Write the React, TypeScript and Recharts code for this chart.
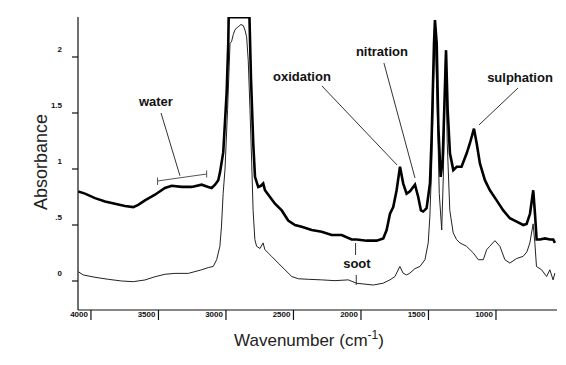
import React from 'react';
import { LineChart, Line, XAxis, YAxis, ReferenceLine, ReferenceDot } from 'recharts';

// [wavenumber cm-1, absorbance]
const usedOilSpectrum: [number, number][] = [
  [4094, 0.8], [4044, 0.78], [3970, 0.74], [3896, 0.71], [3822, 0.69], [3748, 0.67], [3687, 0.66],
  [3650, 0.68], [3600, 0.72], [3526, 0.77], [3452, 0.83], [3402, 0.85], [3328, 0.84], [3254, 0.84],
  [3180, 0.86], [3131, 0.84], [3106, 0.83], [3081, 0.86], [3057, 0.9], [3044, 0.97], [3020, 1.15],
  [2995, 1.68], [2983, 2.12], [2980, 2.355], [2826, 2.355], [2815, 1.82], [2798, 1.23], [2785, 0.93],
  [2761, 0.84], [2741, 0.85], [2724, 0.87], [2711, 0.81], [2674, 0.75], [2637, 0.69], [2587, 0.63],
  [2539, 0.54], [2489, 0.5], [2439, 0.485], [2365, 0.455], [2291, 0.44], [2217, 0.41], [2143, 0.41],
  [2069, 0.37], [2032, 0.37], [1958, 0.36], [1884, 0.36], [1835, 0.38], [1810, 0.455], [1785, 0.6],
  [1761, 0.66], [1736, 0.81], [1711, 1.02], [1687, 0.87], [1662, 0.78], [1637, 0.8], [1600, 0.86],
  [1576, 0.75], [1556, 0.63], [1539, 0.62], [1514, 0.65], [1489, 0.87], [1476, 1.3], [1459, 2.12],
  [1452, 2.33], [1439, 2.12], [1427, 1.38], [1410, 0.93], [1395, 1.08], [1383, 1.53], [1370, 2.06],
  [1358, 1.53], [1341, 1.14], [1316, 0.99], [1291, 1.02], [1255, 1.02], [1217, 1.14], [1193, 1.23],
  [1163, 1.36], [1143, 1.23], [1119, 1.05], [1082, 0.9], [1045, 0.81], [995, 0.72], [946, 0.63],
  [897, 0.56], [847, 0.53], [798, 0.5], [773, 0.51], [748, 0.6], [724, 0.81], [711, 0.6], [699, 0.37],
  [674, 0.37], [637, 0.38], [600, 0.37], [576, 0.37], [563, 0.34],
];

const newOilSpectrum: [number, number][] = [
  [4094, 0.083], [4057, 0.054], [3970, 0.033], [3872, 0.015], [3773, 0.0], [3687, -0.006], [3600, 0.009],
  [3526, 0.038], [3452, 0.06], [3378, 0.068], [3279, 0.068], [3180, 0.1], [3131, 0.12], [3094, 0.13],
  [3069, 0.19], [3045, 0.31], [3033, 0.49], [3021, 0.78], [3007, 1.0], [2988, 1.53], [2970, 2.12],
  [2958, 2.14], [2946, 2.2], [2934, 2.24], [2921, 2.26], [2909, 2.27], [2889, 2.29], [2872, 2.28],
  [2859, 2.24], [2847, 2.18], [2835, 1.97], [2822, 1.53], [2810, 1.08], [2799, 0.63], [2786, 0.37],
  [2773, 0.31], [2748, 0.29], [2725, 0.34], [2712, 0.28], [2687, 0.25], [2662, 0.22], [2613, 0.16],
  [2563, 0.1], [2513, 0.04], [2464, 0.02], [2390, 0.015], [2292, 0.01], [2193, 0.003], [2094, 0.01],
  [2033, -0.02], [1909, -0.036], [1836, -0.02], [1786, 0.01], [1748, 0.04], [1712, 0.13], [1688, 0.07],
  [1663, 0.054], [1638, 0.07], [1601, 0.11], [1563, 0.13], [1526, 0.19], [1502, 0.34], [1490, 0.57],
  [1477, 1.0], [1467, 1.53], [1453, 2.3], [1435, 1.53], [1420, 0.78], [1402, 0.455], [1390, 0.93],
  [1373, 2.06], [1361, 1.23], [1342, 0.63], [1317, 0.43], [1292, 0.37], [1267, 0.34], [1218, 0.31],
  [1168, 0.25], [1131, 0.19], [1094, 0.19], [1069, 0.28], [1046, 0.31], [1008, 0.36], [971, 0.31],
  [934, 0.19], [897, 0.16], [848, 0.2], [799, 0.22], [771, 0.26], [749, 0.34], [725, 0.51], [712, 0.34],
  [700, 0.13], [662, 0.1], [625, 0.04], [601, 0.1], [577, 0.01], [564, 0.07],
];

const xTicks = [4000, 3500, 3000, 2500, 2000, 1500, 1000];
const yTicks = [0, 0.5, 1, 1.5, 2];
const yTickLabels = ['0', '.5', '1', '1.5', '2'];

const annotationTexts = [
  { text: 'water', wn: 3519, v: 1.607 },
  { text: 'oxidation', wn: 2437, v: 1.83 },
  { text: 'nitration', wn: 1845, v: 2.045 },
  { text: 'sulphation', wn: 822, v: 1.821 },
  { text: 'soot', wn: 2030, v: 0.161 },
];

const leaderLines = [
  { x1: 3481, y1: 1.5, x2: 3341, y2: 0.94 },
  { x1: 2289, y1: 1.741, x2: 1733, y2: 1.036 },
  { x1: 1830, y1: 1.946, x2: 1600, y2: 0.92 },
  { x1: 837, y1: 1.723, x2: 1126, y2: 1.393 },
  { x1: 2040, y1: 0.339, x2: 2040, y2: 0.232 },
  { x1: 2035, y1: 0.054, x2: 2035, y2: -0.036 },
];

const waterBracket = [
  { x1: 3507, y1: 0.893, x2: 3143, y2: 0.955 },
  { x1: 3507, y1: 0.924, x2: 3507, y2: 0.857 },
  { x1: 3143, y1: 0.987, x2: 3143, y2: 0.924 },
];

const thickMap = new Map(usedOilSpectrum.map(([w, a]) => [w, a]));
const thinMap = new Map(newOilSpectrum.map(([w, a]) => [w, a]));
const allWn = Array.from(new Set([...usedOilSpectrum.map((p) => p[0]), ...newOilSpectrum.map((p) => p[0])])).sort(
  (a, b) => b - a
);
const chartData = allWn.map((wn) => ({ wn, used: thickMap.get(wn), fresh: thinMap.get(wn) }));

const FONT = "Arial, 'Liberation Sans', Helvetica, sans-serif";

const XTick = (props: any) => {
  const { x, y, payload } = props;
  return (
    <text x={x - 3} y={y - 5} textAnchor="end" fontFamily={FONT} fontSize={8} fontWeight="bold" fill="#111">
      {payload.value}
    </text>
  );
};

const YTick = (props: any) => {
  const { x, y, payload, index } = props;
  const i = yTicks.indexOf(payload.value);
  return (
    <text x={x - 8} y={y - 5} textAnchor="end" fontFamily={FONT} fontSize={8} fontWeight="bold" fill="#111">
      {i >= 0 ? yTickLabels[i] : payload.value}
    </text>
  );
};

export default function App() {
  return (
    <div style={{ position: 'absolute', left: 0, top: 0, width: 566, height: 365, background: '#fff' }}>
      <LineChart width={566} height={365} data={chartData} margin={{ top: 17, right: 9, bottom: 0, left: 0 }}>
        <XAxis
          dataKey="wn"
          type="number"
          domain={[548, 4096]}
          reversed
          ticks={xTicks}
          interval={0}
          tickSize={10}
          height={55}
          allowDataOverflow
          axisLine={{ stroke: '#111', strokeWidth: 1.2 }}
          tickLine={{ stroke: '#111', strokeWidth: 1.2 }}
          tick={XTick}
        />
        <YAxis
          type="number"
          domain={[-0.259, 2.357]}
          ticks={yTicks}
          interval={0}
          tickSize={6}
          width={78}
          allowDataOverflow
          axisLine={{ stroke: '#111', strokeWidth: 1.2 }}
          tickLine={{ stroke: '#111', strokeWidth: 1.2 }}
          tick={YTick}
        />
        {leaderLines.map((l, i) => (
          <ReferenceLine
            key={'l' + i}
            segment={[{ x: l.x1, y: l.y1 }, { x: l.x2, y: l.y2 }]}
            stroke="#333"
            strokeWidth={1}
            ifOverflow="extendDomain"
          />
        ))}
        {waterBracket.map((l, i) => (
          <ReferenceLine
            key={'b' + i}
            segment={[{ x: l.x1, y: l.y1 }, { x: l.x2, y: l.y2 }]}
            stroke="#555"
            strokeWidth={1}
            ifOverflow="extendDomain"
          />
        ))}
        <Line
          dataKey="fresh"
          stroke="#222"
          strokeWidth={1}
          dot={false}
          connectNulls
          isAnimationActive={false}
          strokeLinejoin="round"
        />
        <Line
          dataKey="used"
          stroke="#000"
          strokeWidth={2.6}
          dot={false}
          connectNulls
          isAnimationActive={false}
          strokeLinejoin="miter"
        />
        {annotationTexts.map((a, i) => (
          <ReferenceDot
            key={'t' + i}
            x={a.wn}
            y={a.v}
            r={0}
            ifOverflow="extendDomain"
            shape={(p: any) => (
              <text
                x={p.cx}
                y={p.cy}
                dy="0.35em"
                textAnchor="middle"
                fontFamily={FONT}
                fontSize={13}
                fontWeight="bold"
                fill="#111"
              >
                {a.text}
              </text>
            )}
          />
        ))}
      </LineChart>
      <svg width={566} height={365} style={{ position: 'absolute', left: 0, top: 0, pointerEvents: 'none' }}>
        <text
          transform="translate(47,162) rotate(-90)"
          textAnchor="middle"
          fontFamily={FONT}
          fontSize={18}
          fill="#222"
        >
          Absorbance
        </text>
        <text x={309} y={346} textAnchor="middle" fontFamily={FONT} fontSize={17} fill="#222">
          Wavenumber (cm
          <tspan dy={-7} fontSize={12}>-1</tspan>
          <tspan dy={7}>)</tspan>
        </text>
      </svg>
    </div>
  );
}
